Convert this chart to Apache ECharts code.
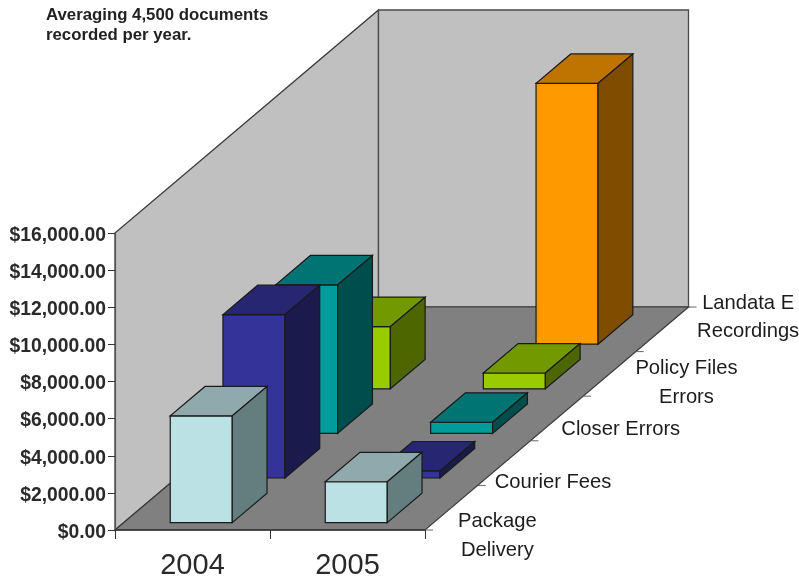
<!DOCTYPE html>
<html><head><meta charset="utf-8">
<style>html,body{margin:0;padding:0;background:#fff}#c{width:799px;height:577px}</style>
<script src="https://cdn.jsdelivr.net/npm/echarts@6/dist/echarts.min.js"></script>
</head><body><div id="c"></div>
<script>
const categories = ['2004', '2005'];
const depthNames = ['Package\nDelivery', 'Courier Fees', 'Closer Errors', 'Policy Files\nErrors', 'Landata E\nRecordings'];
const packageDelivery = [5750, 2200];
const courierFees = [8800, 380];
const closerErrors = [8000, 600];
const policyFiles = [3350, 850];
const landata = [null, 14050];
const yTicks = { min: 0, max: 16000, interval: 2000 };
const noteText = 'Averaging 4,500 documents\nrecorded per year.';

const seriesValues = [packageDelivery, courierFees, closerErrors, policyFiles, landata];
const faces = [
  ['#BCE1E5', '#8FA9AC', '#647D7F'],
  ['#333399', '#262673', '#1A1A4D'],
  ['#009C9C', '#007373', '#004D4D'],
  ['#99CC00', '#739900', '#4D6600'],
  ['#FF9900', '#BF7300', '#804D00']
];
const STEP = [52.7, -44.6];
const BAR_W = 62, D0 = 0.166, DL = 0.66;
const EDGE = '#1a1a1a';
const labelShift = [[46, 28], [49, 19], [64, 11], [77, 9], [86, -12]];

function poly(points, fill, stroke, lw) {
  return { type: 'polygon', shape: { points }, style: { fill, stroke: stroke || EDGE, lineWidth: lw == null ? 1.2 : lw } };
}
function barRender(k) {
  return function (params, api) {
    const c = api.value(0), v = api.value(1);
    const base = api.coord([c, 0]), top = api.coord([c, v]);
    const x0 = base[0] - BAR_W / 2 + STEP[0] * (k + D0);
    const x1 = x0 + BAR_W;
    const yb = base[1] + STEP[1] * (k + D0);
    const yt = top[1] + STEP[1] * (k + D0);
    const dx = STEP[0] * DL, dy = STEP[1] * DL;
    return { type: 'group', children: [
      poly([[x0, yb], [x1, yb], [x1, yt], [x0, yt]], faces[k][0]),
      poly([[x0, yt], [x1, yt], [x1 + dx, yt + dy], [x0 + dx, yt + dy]], faces[k][1]),
      poly([[x1, yb], [x1 + dx, yb + dy], [x1 + dx, yt + dy], [x1, yt]], faces[k][2])
    ] };
  };
}
function roomRender(params, api) {
  const n = depthNames.length;
  const band = api.size([1, 0])[0];
  const a = api.coord([0, yTicks.min]), b = api.coord([0, yTicks.max]);
  const xl = a[0] - band / 2, xr = xl + band * categories.length, y0 = a[1], y1 = b[1];
  const X = STEP[0] * n, Y = STEP[1] * n;
  const ch = [
    poly([[xl, y0], [xl + X, y0 + Y], [xl + X, y1 + Y], [xl, y1]], '#C0C0C0', '#3c3c3c', 1.3),
    poly([[xl + X, y0 + Y], [xr + X, y0 + Y], [xr + X, y1 + Y], [xl + X, y1 + Y]], '#C0C0C0', '#4a4a4a', 1.3),
    poly([[xl, y0], [xr, y0], [xr + X, y0 + Y], [xl + X, y0 + Y]], '#808080', '#3c3c3c', 1.2)
  ];
  for (let k = 0; k <= n; k++) {
    const px = xr + STEP[0] * k, py = y0 + STEP[1] * k;
    ch.push({ type: 'line', shape: { x1: px, y1: py, x2: px + 8, y2: py }, style: { stroke: '#666', lineWidth: 1 } });
  }
  for (let k = 0; k < n; k++) {
    ch.push({ type: 'text', style: {
      text: depthNames[k],
      x: xr + STEP[0] * (k + 0.5) + labelShift[k][0],
      y: y0 + STEP[1] * (k + 0.5) + labelShift[k][1],
      align: 'center', verticalAlign: 'middle', lineHeight: 28.5,
      fill: '#1c1c1c', font: '20.2px "Liberation Sans", Arial, sans-serif'
    } });
  }
  return { type: 'group', children: ch };
}
const series = [{ type: 'custom', silent: true, z: 1, data: [[0, 0]], renderItem: roomRender, clip: false }];
for (let k = seriesValues.length - 1; k >= 0; k--) {
  series.push({
    type: 'custom', silent: true, z: 2 + (seriesValues.length - k), clip: false,
    name: depthNames[k],
    data: seriesValues[k].map((v, i) => [i, v]).filter(d => d[1] !== null),
    renderItem: barRender(k)
  });
}
const chart = echarts.init(document.getElementById('c'), null, { renderer: 'canvas' });
chart.setOption({
  animation: false,
  backgroundColor: '#fff',
  title: { text: noteText, left: 46, top: 5, padding: 0,
    textStyle: { fontFamily: '"Liberation Sans", Arial, sans-serif', fontSize: 16.8, fontWeight: 'bold', color: '#222', lineHeight: 20 } },
  grid: { left: 115, right: 374, top: 233, bottom: 47, outerBoundsMode: 'none' },
  xAxis: { type: 'category', data: categories, z: 20,
    axisLine: { lineStyle: { color: '#333', width: 1.5 } },
    axisTick: { show: true, alignWithLabel: false, length: 9, lineStyle: { color: '#333', width: 1 } },
    axisLabel: { fontFamily: '"Liberation Sans", Arial, sans-serif', fontSize: 29, color: '#2a2a2a', margin: 21, interval: 0 },
    splitLine: { show: false } },
  yAxis: { type: 'value', min: yTicks.min, max: yTicks.max, interval: yTicks.interval, z: 20,
    axisLine: { show: true, lineStyle: { color: '#555', width: 1.2 } },
    axisTick: { show: true, length: 7, lineStyle: { color: '#333', width: 1 } },
    axisLabel: { margin: 9,
      formatter: v => '{a|$' + v.toLocaleString('en-US', { minimumFractionDigits: 2, maximumFractionDigits: 2 }) + '}',
      rich: { a: { fontFamily: '"Liberation Sans", Arial, sans-serif', fontSize: 19.3, fontWeight: 'bold', color: '#2a2a2a', padding: [5, 0, 0, 0] } } },
    splitLine: { show: false } },
  series
});
</script></body></html>
